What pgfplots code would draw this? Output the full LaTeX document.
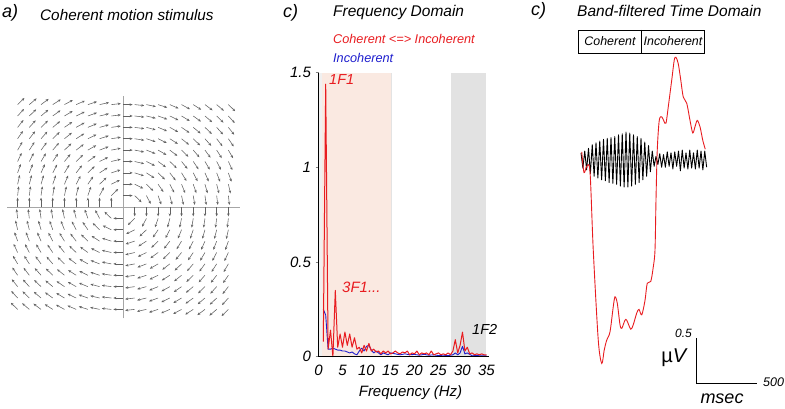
\documentclass[border=0pt]{standalone}
\usepackage{fontspec}
\setmainfont{Liberation Sans}
\usepackage{pgfplots}
\pgfplotsset{compat=1.18}
\usepackage{pgfplotstable}
\usetikzlibrary{arrows.meta}
\definecolor{myred}{RGB}{232,28,32}
\definecolor{myblue}{RGB}{30,30,205}
\definecolor{pinkband}{RGB}{250,233,225}
\definecolor{grayband}{RGB}{226,226,226}
\newcommand{\fs}[1]{\fontsize{#1}{#1}\selectfont\itshape}

% one quadrant of the circular motion field (x>=1, y>=0); rest by rotation
\pgfplotstableread{
x y u v
1 0 0 -1
2 0 0 -1
3 0 0 -1
4 0 0 -1
5 0 0 -1
6 0 0 -1
7 0 0 -1
8 0 0 -1
9 0 0 -1
1 1 0.71 -0.71
2 1 0.45 -0.89
3 1 0.32 -0.95
4 1 0.24 -0.97
5 1 0.20 -0.98
6 1 0.16 -0.99
7 1 0.14 -0.99
8 1 0.12 -0.99
9 1 0.11 -0.99
1 2 0.89 -0.45
2 2 0.71 -0.71
3 2 0.55 -0.83
4 2 0.45 -0.89
5 2 0.37 -0.93
6 2 0.32 -0.95
7 2 0.27 -0.96
8 2 0.24 -0.97
9 2 0.22 -0.98
1 3 0.95 -0.32
2 3 0.83 -0.55
3 3 0.71 -0.71
4 3 0.60 -0.80
5 3 0.51 -0.86
6 3 0.45 -0.89
7 3 0.39 -0.92
8 3 0.35 -0.94
9 3 0.32 -0.95
1 4 0.97 -0.24
2 4 0.89 -0.45
3 4 0.80 -0.60
4 4 0.71 -0.71
5 4 0.62 -0.78
6 4 0.55 -0.83
7 4 0.50 -0.87
8 4 0.45 -0.89
9 4 0.41 -0.91
1 5 0.98 -0.20
2 5 0.93 -0.37
3 5 0.86 -0.51
4 5 0.78 -0.62
5 5 0.71 -0.71
6 5 0.64 -0.77
7 5 0.58 -0.81
8 5 0.53 -0.85
9 5 0.49 -0.87
1 6 0.99 -0.16
2 6 0.95 -0.32
3 6 0.89 -0.45
4 6 0.83 -0.55
5 6 0.77 -0.64
6 6 0.71 -0.71
7 6 0.65 -0.76
8 6 0.60 -0.80
9 6 0.55 -0.83
1 7 0.99 -0.14
2 7 0.96 -0.27
3 7 0.92 -0.39
4 7 0.87 -0.50
5 7 0.81 -0.58
6 7 0.76 -0.65
7 7 0.71 -0.71
8 7 0.66 -0.75
9 7 0.61 -0.79
1 8 0.99 -0.12
2 8 0.97 -0.24
3 8 0.94 -0.35
4 8 0.89 -0.45
5 8 0.85 -0.53
6 8 0.80 -0.60
7 8 0.75 -0.66
8 8 0.71 -0.71
9 8 0.66 -0.75
1 9 0.99 -0.11
2 9 0.98 -0.22
3 9 0.95 -0.32
4 9 0.91 -0.41
5 9 0.87 -0.49
6 9 0.83 -0.55
7 9 0.79 -0.61
8 9 0.75 -0.66
9 9 0.71 -0.71
}\Q

\pgfplotstableread{
f a
1.0 0.08
1.5 1.44
2.0 0.04
2.5 0.14
3.0 0.00
3.5 0.35
4.0 0.05
4.5 0.12
5.0 0.05
5.5 0.13
6.0 0.06
6.5 0.12
7.0 0.05
7.5 0.10
8.0 0.04
8.5 0.05
9.0 0.02
9.5 0.06
10.0 0.03
10.5 0.07
11.0 0.03
11.5 0.04
12.0 0.025
12.5 0.03
13.0 0.015
13.5 0.03
14.0 0.02
14.5 0.03
15.0 0.015
15.5 0.02
16.0 0.03
16.5 0.02
17.0 0.015
17.5 0.025
18.0 0.02
18.5 0.03
19.0 0.01
19.5 0.02
20.0 0.015
20.5 0.03
21.0 0.01
21.5 0.02
22.0 0.015
22.5 0.02
23.0 0.01
23.5 0.03
24.0 0.01
24.5 0.015
25.0 0.02
25.5 0.01
26.0 0.015
26.5 0.01
27.0 0.02
27.5 0.01
28.0 0.03
28.5 0.09
29.0 0.02
29.5 0.06
30.0 0.13
30.5 0.03
31.0 0.05
31.5 0.015
32.0 0.02
32.5 0.01
33.0 0.015
33.5 0.01
34.0 0.015
34.5 0.01
35.0 0.01
}\Red

\pgfplotstableread{
f a
1.0 0.25
1.5 0.22
2.0 0.04
2.5 0.04
3.0 0.045
3.5 0.04
4.0 0.035
4.5 0.035
5.0 0.03
5.5 0.03
6.0 0.025
6.5 0.02
7.0 0.025
7.5 0.015
8.0 0.01
8.5 0.03
9.0 0.045
9.5 0.03
10.0 0.055
10.5 0.06
11.0 0.035
11.5 0.02
12.0 0.03
12.5 0.02
13.0 0.01
13.5 0.02
14.0 0.015
14.5 0.01
15.0 0.02
16.0 0.015
17.0 0.01
18.0 0.015
19.0 0.01
20.0 0.012
21.0 0.008
22.0 0.012
23.0 0.008
24.0 0.01
25.0 0.006
26.0 0.008
27.0 0.006
28.0 0.01
28.5 0.02
29.0 0.01
29.5 0.02
30.0 0.055
30.5 0.015
31.0 0.02
32.0 0.005
33.0 0.006
34.0 0.004
35.0 0.005
}\Blue

\begin{document}
\begin{tikzpicture}[x=1pt,y=1pt]
\path[use as bounding box] (0,0) rectangle (785,408);

% ---------------- panel a: quiver
\begin{axis}[at={(123pt,201pt)}, anchor=origin, scale only axis,
  width=233pt, height=223pt, xmin=-9.9, xmax=10, ymin=-9.8, ymax=9.8,
  axis lines=middle, axis line style={-, gray!70, line width=0.6pt},
  xtick=\empty, ytick=\empty, clip=false]
\pgfplotsset{qv/.style={black!62, line width=0.55pt, -{Stealth[length=3pt,width=2.5pt]}}}
\addplot[qv, quiver={u=\thisrow{u}, v=\thisrow{v}, scale arrows=0.82}] table {\Q};
\addplot[qv, quiver={u={-1*(\thisrow{v})}, v={\thisrow{u}}, scale arrows=0.82}] table[x expr={-1*(\thisrow{y})}, y expr={\thisrow{x}}] {\Q};
\addplot[qv, quiver={u={-1*(\thisrow{u})}, v={-1*(\thisrow{v})}, scale arrows=0.82}] table[x expr={-1*(\thisrow{x})}, y expr={-1*(\thisrow{y})}] {\Q};
\addplot[qv, quiver={u={\thisrow{v}}, v={-1*(\thisrow{u})}, scale arrows=0.82}] table[x expr={\thisrow{y}}, y expr={-1*(\thisrow{x})}] {\Q};
\end{axis}

% ---------------- panel b: frequency domain
\begin{axis}[at={(318.5pt,51.3pt)}, anchor=south west, scale only axis,
  width=170.4pt, height=284pt, xmin=0, xmax=35.5, ymin=0, ymax=1.5,
  axis lines=left, axis line style={-, line width=0.8pt},
  xtick={0,5,...,35}, ytick={0,0.5,1,1.5},
  tick align=outside, major tick length=3pt, tick style={line width=0.7pt},
  x tick style={draw=none},
  ticklabel style={font=\fs{15}},
  xticklabel style={yshift=-2pt},
  yticklabel style={xshift=-1pt},
  /pgf/number format/assume math mode=true,
  xlabel={Frequency (Hz)}, xlabel style={font=\fs{15}, at={(axis description cs:0.54,-0.128)}, anchor=center},
  clip=false, axis on top]
\addplot[draw=none, fill=grayband!50] coordinates {(0.1,0) (0.1,1.5) (0.7,1.5) (0.7,0)} -- cycle;
\addplot[draw=none, fill=pinkband] coordinates {(0.7,0) (0.7,1.5) (15.2,1.5) (15.2,0)} -- cycle;
\addplot[draw=gray!22, line width=1.4pt] coordinates {(15.25,0) (15.25,1.5)};
\addplot[draw=none, fill=grayband] coordinates {(27.5,0) (27.5,1.5) (34.9,1.5) (34.9,0)} -- cycle;
\addplot[myblue, line width=0.9pt, line join=round] table[x=f, y=a] {\Blue};
\addplot[myred, line width=1pt, line join=round] table[x=f, y=a] {\Red};
\end{axis}

% ---------------- panel c: band-filtered time domain
\begin{axis}[at={(579pt,23pt)}, anchor=south west, scale only axis,
  width=125pt, height=360pt, xmin=0, xmax=1000, ymin=-2.5, ymax=1.5,
  hide axis, clip=false]
\addplot[black, line width=0.9pt, line join=round] coordinates {
(16,0.08) (31,-0.09) (46,0.10) (61,-0.11) (76,0.13) (91,-0.15) (106,0.17) (121,-0.18)
(136,0.19) (151,-0.20) (166,0.21) (181,-0.22) (196,0.23) (211,-0.23) (226,0.24) (241,-0.25)
(256,0.25) (271,-0.26) (286,0.26) (301,-0.27) (316,0.28) (331,-0.29) (346,0.29) (361,-0.30)
(376,0.31) (391,-0.30) (406,0.30) (421,-0.29) (436,0.28) (451,-0.27) (466,0.26) (481,-0.25)
(496,0.24) (511,-0.22) (526,0.20) (541,-0.18) (556,0.16) (571,-0.13) (586,0.10) (601,-0.07)
(616,0.04) (631,-0.05) (646,0.07) (661,-0.08) (676,0.06) (691,-0.08) (706,0.09) (721,-0.07)
(736,0.08) (751,-0.10) (766,0.09) (781,-0.07) (796,0.10) (811,-0.12) (826,0.11) (841,-0.09)
(856,0.08) (871,-0.10) (886,0.11) (901,-0.09) (916,0.08) (931,-0.10) (946,0.11) (961,-0.09)
(976,0.10) (991,-0.11) (1006,0.10) (1021,-0.08)};
\addplot[myred, line width=0.9pt, smooth, tension=0.5] coordinates {
(22,0.09) (40,-0.14) (62,-0.07) (88,-0.13) (114,-1.00) (154,-2.00) (182,-2.26) (202,-2.11)
(222,-2.00) (248,-1.91) (274,-1.63) (288,-1.52) (306,-1.59) (328,-1.83) (342,-1.87) (368,-1.78)
(382,-1.78) (414,-1.88) (434,-1.83) (462,-1.70) (480,-1.66) (502,-1.72) (528,-1.56) (546,-1.37)
(574,-1.35) (594,-1.19) (608,-1.00) (616,-0.44) (626,0.11) (642,0.44) (662,0.48) (680,0.43)
(696,0.41) (714,0.59) (742,0.89) (762,1.11) (776,1.14) (794,1.07) (814,0.89) (834,0.70)
(862,0.63) (888,0.44) (910,0.30) (928,0.37) (946,0.44) (968,0.37) (990,0.22) (1010,0.12)};
\draw[line width=0.9pt] (axis cs:942,-1.98) -- (axis cs:942,-2.48) -- (axis cs:1422,-2.48);
\end{axis}

% ---------------- texts
\node[anchor=west, inner sep=0] at (2,395) {\fs{18}a)};
\node[anchor=west, inner sep=0] at (40,393) {\fs{15.3}\textit{Coherent motion stimulus}};
\node[anchor=west, inner sep=0] at (283,395) {\fs{18}c)};
\node[anchor=west, inner sep=0] at (333,396) {\fs{15.5}\textit{Frequency Domain}};
\node[anchor=west, inner sep=0] at (531,397) {\fs{18}c)};
\node[anchor=west, inner sep=0] at (577,397) {\fs{15.5}\textit{Band-filtered Time Domain}};
\node[anchor=west, inner sep=0, text=myred] at (333,369.5) {\fs{12.7}Coherent <=> Incoherent};
\node[anchor=west, inner sep=0, text=myblue] at (333,350) {\fs{12.7}Incoherent};
\node[anchor=west, inner sep=0, text=myred] at (329,328) {\fs{14.5}1F1};
\node[anchor=west, inner sep=0, text=myred] at (342,121) {\fs{15}3F1...};
\node[anchor=west, inner sep=0] at (472,78.5) {\fs{14.5}1F2};
% condition box
\draw[line width=0.9pt] (578,378) rectangle (704,355);
\draw[line width=0.9pt] (641.7,378) -- (641.7,355);
\node[inner sep=0] at (610,366.5) {\fs{12.4}Coherent};
\node[inner sep=0] at (673,366.5) {\fs{12.4}Incoherent};
% scale bar labels
\node[anchor=east, inner sep=0] at (692,75) {\fs{12}0.5};
\node[anchor=east, inner sep=0] at (688,50) {\fontsize{20}{20}\selectfont µ\textit{V}};
\node[anchor=west, inner sep=0] at (763,26) {\fs{12.5}500};
\node[inner sep=0] at (722,9) {\fs{18}msec};
\end{tikzpicture}
\end{document}
